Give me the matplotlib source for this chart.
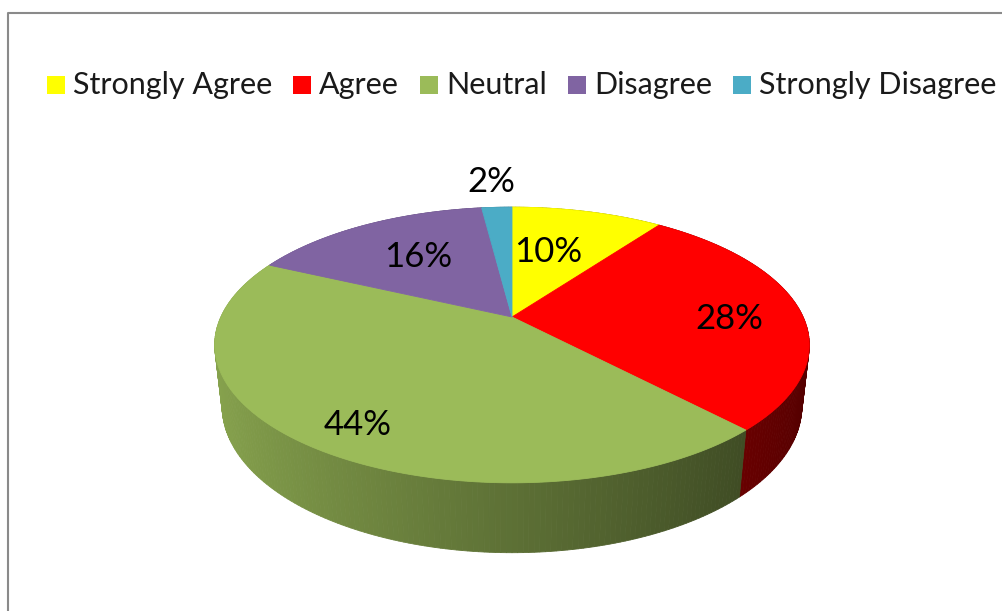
import numpy as np
import matplotlib.pyplot as plt
from matplotlib.patches import Polygon, Rectangle
from matplotlib.colors import to_rgb

categories = ['Strongly Agree', 'Agree', 'Neutral', 'Disagree', 'Strongly Disagree']
values = [10, 28, 44, 16, 2]
colors = ['#FFFF00', '#FF0000', '#9BBB59', '#8064A2', '#4BACC6']
pct_labels = ['10%', '28%', '44%', '16%', '2%']

# label placement: fraction of radius along the mid angle, plus a pixel nudge
label_r = [0.6, 0.75, 0.8, 0.6, 1.3]
label_nudge = [(-12, 3), (1, 8), (3, 10), (0, -2), (-2, 1)]

plt.rcParams['font.family'] = ['Lato', 'DejaVu Sans']

W, H = 1002, 611
fig = plt.figure(figsize=(W / 100, H / 100), dpi=100)
ax = fig.add_axes([0, 0, 1, 1])
ax.set_xlim(0, W)
ax.set_ylim(H, 0)
ax.axis('off')

# chart frame (cut off on the right and bottom)
ax.plot([8, 8, W + 5], [H + 5, 13, 13], color='#8a8a8a', lw=1.5, solid_capstyle='butt')

# simple perspective camera looking down on the pie
cx, cy = 512, 317
K, D = 1278, 4.39
elev = np.radians(27)
s, c = np.sin(elev), np.cos(elev)
thick = 0.237


def project(theta, depth=0.0, r=1.0):
    u = r * np.sin(theta)
    w = r * np.cos(theta)
    yc = w * s - depth * c
    zc = D + w * c + depth * s
    return cx + K * u / zc, cy - K * yc / zc, zc


def shade(theta):
    # light comes from the left, so the right of the rim is darker
    return np.clip(0.6 - 0.28 * np.sin(theta), 0, 1)


total = sum(values)
bounds = np.concatenate([[0], np.cumsum(values)]) / total * 2 * np.pi

# side walls, painted back to front
quads = []
for i in range(len(values)):
    n = max(4, int(values[i] * 4))
    th = np.linspace(bounds[i], bounds[i + 1], n + 1)
    base = np.array(to_rgb(colors[i]))
    for a, b in zip(th[:-1], th[1:]):
        xa, ya, za = project(a)
        xb, yb, zb = project(b)
        xa2, ya2, _ = project(a, thick)
        xb2, yb2, _ = project(b, thick)
        col = base * shade((a + b) / 2)
        quads.append(((za + zb) / 2, [(xa, ya), (xb, yb), (xb2, yb2), (xa2, ya2)], col))
quads.sort(key=lambda q: -q[0])
for _, pts, col in quads:
    ax.add_patch(Polygon(pts, closed=True, fc=col, ec=col, lw=0.6))

# top faces
for i in range(len(values)):
    th = np.linspace(bounds[i], bounds[i + 1], max(8, values[i] * 6))
    x, y, _ = project(th)
    pts = [(cx, cy)] + list(zip(x, y))
    ax.add_patch(Polygon(pts, closed=True, fc=colors[i], ec=colors[i], lw=0.6))

# percentage labels
for i in range(len(values)):
    mid = (bounds[i] + bounds[i + 1]) / 2
    x, y, _ = project(mid, r=label_r[i])
    dx, dy = label_nudge[i]
    ax.text(x + dx, y + dy, pct_labels[i], fontsize=25, ha='center', va='center', color='#000000')

# legend along the top
fig.canvas.draw()
renderer = fig.canvas.get_renderer()
x = 47
for cat, col in zip(categories, colors):
    ax.add_patch(Rectangle((x, 76), 18, 18, fc=col, ec='none'))
    t = ax.text(x + 26, 85, cat, fontsize=22, ha='left', va='center', color='#1a1a1a')
    bb = t.get_window_extent(renderer)
    x = x + 26 + bb.width + 21

fig.savefig('out.png', dpi=100)
